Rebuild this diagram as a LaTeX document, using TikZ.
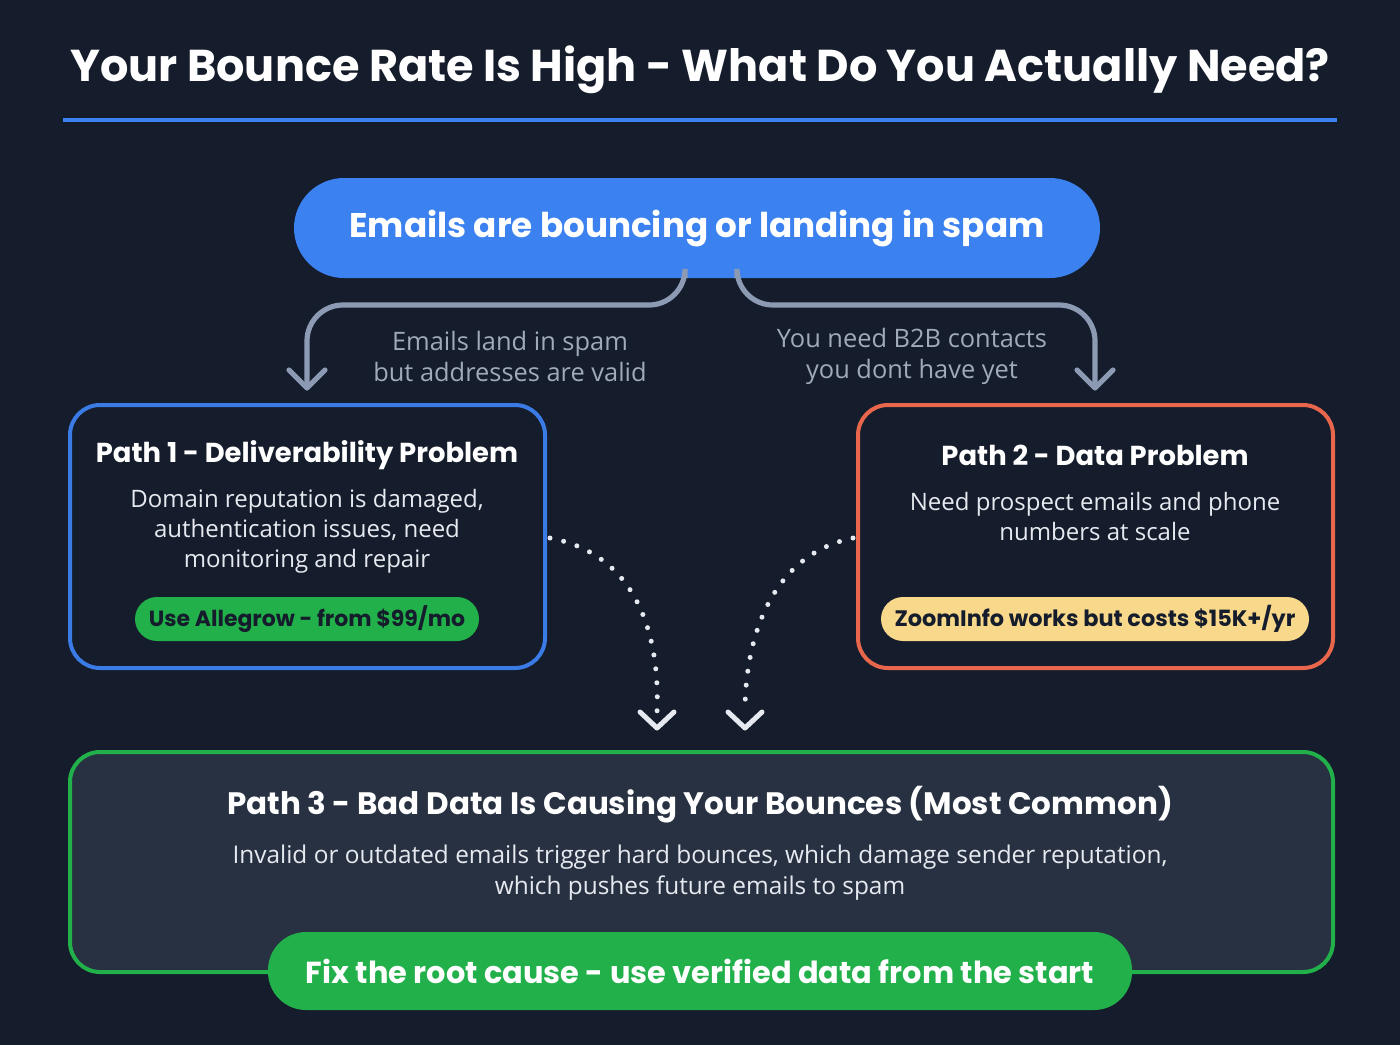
\documentclass[tikz,border=0pt]{standalone}
\usepackage{fontspec}
\setmainfont{Open Sans}
\newfontfamily\pop{Poppins}
\usetikzlibrary{arrows.meta}
\definecolor{bg}{HTML}{151C2B}
\definecolor{blu}{HTML}{3B82F0}
\definecolor{bordblu}{HTML}{3A7BE6}
\definecolor{org}{HTML}{E8674C}
\definecolor{grn}{HTML}{22B04B}
\definecolor{ylw}{HTML}{F8D98C}
\definecolor{conn}{HTML}{8C9BB3}
\definecolor{lbl}{HTML}{A0AABB}
\definecolor{body}{HTML}{E6EAF0}
\definecolor{box3}{HTML}{283142}
\begin{document}
\begin{tikzpicture}[x=0.5pt,y=-0.5pt,
  box/.style={draw, line width=2pt, rounded corners=15pt},
  head/.style={font=\pop\bfseries\fontsize{13.7}{16}\selectfont, text=white},
  txt/.style={font=\fontsize{12}{15}\selectfont, text=body, align=center},
  lab/.style={font=\fontsize{12.7}{15.5}\selectfont, text=lbl, align=center},
  pill/.style={rounded corners=11pt, inner sep=0pt},
  conn/.style={draw=conn, line width=2.6pt, rounded corners=18pt},
  dots/.style={draw=body, line width=2.5pt, line cap=round, dash pattern=on 0pt off 7pt},
  chev/.style={draw=body, line width=2.5pt, line cap=round, line join=round}]
\useasboundingbox (0,0) rectangle (1400,1045);
\fill[bg] (0,0) rectangle (1400,1045);
\node[font=\pop\bfseries\fontsize{22.3}{26}\selectfont, text=white] (title) at (700,70) {Your Bounce Rate Is High - What Do You Actually Need?};
\draw[blu, line width=2pt] (63,120) coordinate (l1) -- (1337,120) coordinate (l2);
% top pill
\node[fill=blu, rounded corners=25pt, minimum width=403pt, minimum height=50pt, font=\pop\bfseries\fontsize{17.1}{20}\selectfont, text=white] (top) at (697,228) {Emails are bouncing or landing in spam};
% boxes
\node[box, draw=bordblu, minimum width=237.5pt, minimum height=131.5pt] (b1) at (307.5,536.5) {};
\node[box, draw=org, minimum width=237.5pt, minimum height=131.5pt] (b2) at (1095.5,536.5) {};
\node[box, draw=grn, fill=box3, minimum width=631.5pt, minimum height=110pt] (b3) at (701.5,862) {};
% connectors
\coordinate (a1) at (307,388);
\coordinate (a2) at (1095,388);
\draw[conn] (685,278) -- (685,305) -- (307,305) -- (a1);
\draw[conn] (737,278) -- (737,305) -- (1095,305) -- (a2);
\draw[conn, rounded corners=0pt, line join=round, line cap=round] (289,370) -- (a1) -- (325,370);
\draw[conn, rounded corners=0pt, line join=round, line cap=round] (1077,370) -- (a2) -- (1113,370);
\node[lab] (lab1) at (510,356) {Emails land in spam\\but addresses are valid};
\node[lab] (lab2) at (912,356) {You need B2B contacts\\you dont have yet};
% box1 text
\node[head] (h1) at (307,455) {Path 1 - Deliverability Problem};
\node[txt] (t1) at (307,531) {Domain reputation is damaged,\\authentication issues, need\\monitoring and repair};
\node[pill, fill=grn, minimum width=172pt, minimum height=22pt, font=\pop\bfseries\fontsize{11}{13}\selectfont, text=bg] (p1) at (307,619) {Use Allegrow - from \$99/mo};
% box2 text
\node[head] (h2) at (1095,455) {Path 2 - Data Problem};
\node[txt] (t2) at (1095,516) {Need prospect emails and phone\\numbers at scale};
\node[pill, fill=ylw, minimum width=214pt, minimum height=22pt, font=\pop\bfseries\fontsize{11.2}{13}\selectfont, text=bg] (p2) at (1095,619) {ZoomInfo works but costs \$15K+/yr};
% dotted arrows
\coordinate (d1) at (657,728);
\coordinate (d2) at (745,728);
\draw[dots] (550,538) .. controls (640,555) and (660,640) .. (657,712);
\draw[dots] (853,538) .. controls (770,555) and (745,640) .. (745,712);
\draw[chev] (640,712) -- (d1) -- (674,712);
\draw[chev] (728,712) -- (d2) -- (762,712);
% box3 text
\node[head, font=\pop\bfseries\fontsize{15.5}{18}\selectfont] (h3) at (700,805) {Path 3 - Bad Data Is Causing Your Bounces (Most Common)};
\node[txt, font=\fontsize{12.2}{15.5}\selectfont] (t3) at (700,873) {Invalid or outdated emails trigger hard bounces, which damage sender reputation,\\which pushes future emails to spam};
\node[fill=grn, rounded corners=19pt, minimum width=432pt, minimum height=39pt, font=\pop\bfseries\fontsize{15.2}{18}\selectfont, text=white] (p3) at (700,971) {Fix the root cause - use verified data from the start};
\end{tikzpicture}
\end{document}
